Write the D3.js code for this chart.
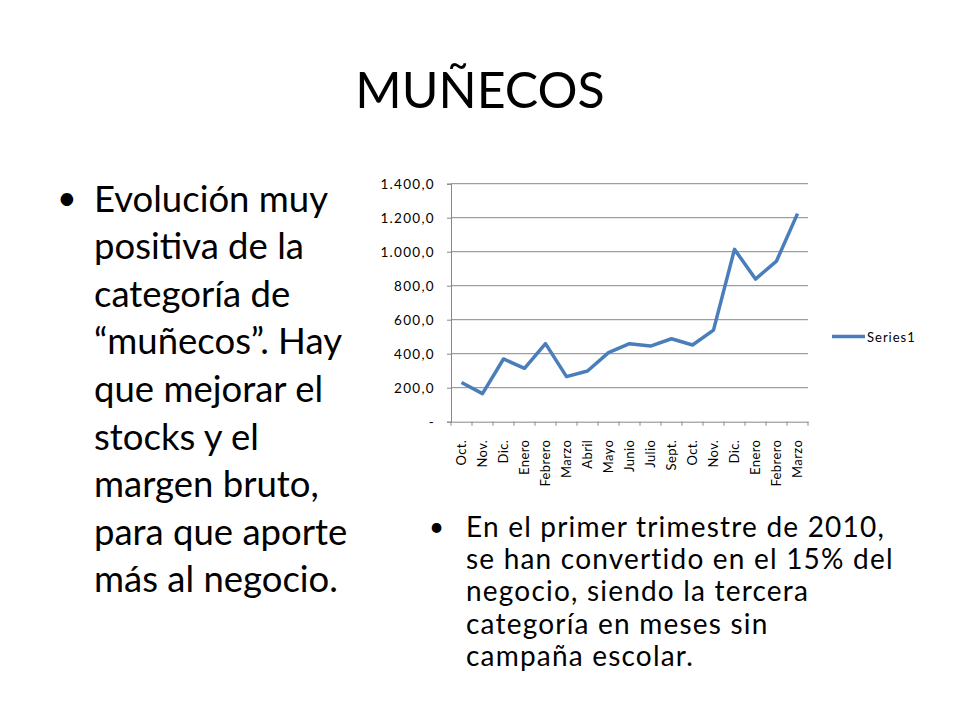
<!DOCTYPE html>
<html lang="es">
<head>
<meta charset="UTF-8">
<title>MUÑECOS</title>
<script src="https://d3js.org/d3.v7.min.js"></script>
<style>
  body { margin: 0; background: #fff; }
  svg text { font-family: 'Lato', 'Open Sans', sans-serif; fill: #000; }
</style>
</head>
<body>
<div id="slide"></div>
<script>
// chart data
const months = ['Oct.', 'Nov.', 'Dic.', 'Enero', 'Febrero', 'Marzo', 'Abril', 'Mayo', 'Junio',
  'Julio', 'Sept.', 'Oct.', 'Nov.', 'Dic.', 'Enero', 'Febrero', 'Marzo'];
const series1 = [231, 165, 369, 314, 459, 265, 298, 406, 459, 445, 488, 451, 539, 1014, 839, 945, 1224];
const yTicks = [0, 200, 400, 600, 800, 1000, 1200, 1400];
const seriesName = 'Series1';

const leftLines = ['Evolución muy', 'positiva de la', 'categoría de', '“muñecos”. Hay',
  'que mejorar el', 'stocks y el', 'margen bruto,', 'para que aporte', 'más al negocio.'];
const rightLines = ['En el primer trimestre de 2010,', 'se han convertido en el 15% del',
  'negocio, siendo la tercera', 'categoría en meses sin', 'campaña escolar.'];

const svg = d3.select('#slide').append('svg')
  .attr('width', 960).attr('height', 720);

// title
svg.append('text')
  .attr('x', 480).attr('y', 108)
  .attr('text-anchor', 'middle')
  .style('font-size', '50px')
  .text('MUÑECOS');

// left bullet text
svg.append('text').attr('x', 57).attr('y', 210).style('font-size', '34px').text('•');
svg.append('g').selectAll('text')
  .data(leftLines)
  .enter().append('text')
  .attr('x', 94)
  .attr('y', (d, i) => 211.5 + i * 47.6)
  .style('font-size', '36.5px')
  .text(d => d);

// right bullet text
svg.append('text').attr('x', 429).attr('y', 536).style('font-size', '26px').text('•');
svg.append('g').selectAll('text')
  .data(rightLines)
  .enter().append('text')
  .attr('x', 466)
  .attr('y', (d, i) => 536.5 + i * 32.4)
  .style('font-size', '28px')
  .style('letter-spacing', '1.2px')
  .text(d => d);

// chart
const plot = { left: 451, right: 808, top: 183.7, bottom: 421.7 };

const x = d3.scaleBand()
  .domain(d3.range(months.length))
  .range([plot.left, plot.right]);

const y = d3.scaleLinear()
  .domain([0, 1400])
  .range([plot.bottom, plot.top]);

const fmt = v => v === 0 ? '-' : d3.format(',.1f')(v).replace(/,/g, '#').replace('.', ',').replace(/#/g, '.');

// gridlines
svg.append('g').selectAll('line')
  .data(yTicks.slice(1))
  .enter().append('line')
  .attr('x1', plot.left).attr('x2', plot.right)
  .attr('y1', d => y(d)).attr('y2', d => y(d))
  .attr('stroke', '#878787').attr('stroke-width', 1);

// y axis
const yAxis = svg.append('g')
  .attr('transform', `translate(${plot.left},0)`)
  .call(d3.axisLeft(y).tickValues(yTicks).tickFormat(fmt).tickSize(4).tickPadding(12));
yAxis.select('.domain').attr('stroke', '#878787');
yAxis.selectAll('.tick line').attr('stroke', '#878787');
yAxis.selectAll('text')
  .style('font-size', '13.5px')
  .style('letter-spacing', '1.3px')
  .attr('fill', '#000');

// x axis
const xAxis = svg.append('g')
  .attr('transform', `translate(0,${plot.bottom})`)
  .call(d3.axisBottom(x).tickFormat(i => months[i]).tickSize(0).tickPadding(0));
xAxis.select('.domain').attr('stroke', '#878787');
xAxis.selectAll('.tick text')
  .style('font-size', '13px')
  .style('letter-spacing', '0.4px')
  .attr('fill', '#000')
  .attr('text-anchor', 'end')
  .attr('transform', 'rotate(-90)')
  .attr('x', -18)
  .attr('y', 0)
  .attr('dy', '0.35em');

// category boundary ticks
svg.append('g').selectAll('line')
  .data(d3.range(months.length + 1))
  .enter().append('line')
  .attr('x1', i => plot.left + i * x.step())
  .attr('x2', i => plot.left + i * x.step())
  .attr('y1', plot.bottom).attr('y2', plot.bottom + 4)
  .attr('stroke', '#878787');

// series line
const line = d3.line()
  .x((d, i) => x(i) + x.bandwidth() / 2)
  .y(d => y(d));

svg.append('path')
  .datum(series1)
  .attr('d', line)
  .attr('fill', 'none')
  .attr('stroke', '#4A7EBB')
  .attr('stroke-width', 3.5)
  .attr('stroke-linejoin', 'round');

// legend
const legend = svg.append('g').attr('transform', 'translate(832,336.5)');
legend.append('line')
  .attr('x1', 0).attr('x2', 33)
  .attr('stroke', '#4A7EBB').attr('stroke-width', 3.5);
legend.append('text')
  .attr('x', 35).attr('y', 1).attr('dy', '0.35em')
  .style('font-size', '13px')
  .style('letter-spacing', '1px')
  .text(seriesName);
</script>
</body>
</html>
